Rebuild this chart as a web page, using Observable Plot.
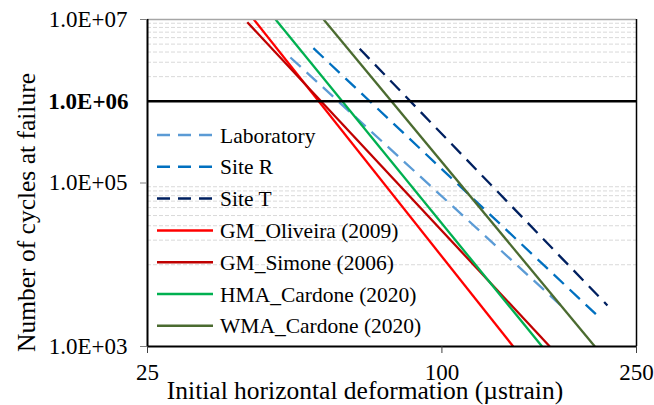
<!DOCTYPE html>
<html>
<head>
<meta charset="utf-8">
<script src="https://cdn.jsdelivr.net/npm/d3@7"></script>
<script src="https://cdn.jsdelivr.net/npm/@observablehq/plot@0.6"></script>
<style>
  html, body { margin: 0; padding: 0; background: #fff; }
</style>
</head>
<body>
<div id="chart"></div>
<script>
// Fatigue laws: number of cycles at failure vs initial horizontal strain (log-log)
const series = ["Laboratory", "Site R", "Site T", "GM_Oliveira (2009)", "GM_Simone (2006)", "HMA_Cardone (2020)", "WMA_Cardone (2020)"];
const strainStart = [49.0, 54.6, 67.9, 41.25, 40.0, 45.7, 57.3];
const cyclesStart = [3.43e6, 4.46e6, 4.38e6, 1.0e7, 9.27e6, 1.0e7, 1.0e7];
const strainEnd   = [177.0, 211.0, 218.0, 139.9, 166.2, 160.3, 205.5];
const cyclesEnd   = [3.0e3, 2.2e3, 3.18e3, 1.0e3, 1.0e3, 1.0e3, 1.0e3];

const xTicks = [25, 100, 250];
const yTicks = [1e3, 1e5, 1e7];
const yRefTick = [1e6];
const yGrid = [1e4, 2e4, 3e4, 4e4, 5e4, 6e4, 7e4, 8e4, 9e4, 2e6, 3e6, 4e6, 5e6, 6e6, 7e6, 8e6, 9e6];

const xTitle = "Initial horizontal deformation (\u00b5strain)";
const yTitle = "Number of cycles at failure";

// line styles per series
const colors = ["#5B9BD5", "#0070C0", "#002060", "#FF0000", "#C00000", "#00B050", "#4B6B30"];
const dashes = ["14,8", "14,8", "14,8", null, null, null, null];

const rows = series.flatMap((s, i) => [
  {series: s, strain: strainStart[i], cycles: cyclesStart[i]},
  {series: s, strain: strainEnd[i], cycles: cyclesEnd[i]}
]);

const fmtE = d => d.toExponential(1).toUpperCase().replace(/E\+(\d)$/, "E+0$1");
const font = "'Liberation Serif', 'Times New Roman', serif";

const lineMarks = series.map((s, i) =>
  Plot.line(rows.filter(r => r.series === s), {
    x: "strain", y: "cycles",
    stroke: colors[i], strokeWidth: 2.3,
    strokeDasharray: dashes[i] ?? undefined,
    strokeLinecap: "butt",
    clip: true
  })
);

const chart = Plot.plot({
  width: 654,
  height: 405,
  marginLeft: 147,
  marginRight: 18,
  marginTop: 19,
  marginBottom: 59,
  style: {fontFamily: font, fontSize: "22px", background: "white", color: "black"},
  x: {type: "log", domain: [25, 250]},
  y: {type: "log", domain: [1e3, 1e7]},
  marks: [
    Plot.ruleY(yGrid, {stroke: "#d9d9d9", strokeWidth: 1, strokeDasharray: "4,2"}),
    ...lineMarks,
    Plot.ruleY([1e6], {stroke: "black", strokeWidth: 2.5}),
    Plot.ruleY([1e7], {stroke: "#a6a6a6", strokeWidth: 1.5}),
    Plot.ruleX([250], {stroke: "black", strokeWidth: 1.5}),
    Plot.ruleX([25], {stroke: "black", strokeWidth: 2}),
    Plot.ruleY([1e3], {stroke: "black", strokeWidth: 2}),
    Plot.axisY(yTicks, {tickSize: 7, tickPadding: 13, tickFormat: fmtE, fontSize: 23, stroke: "#7f7f7f", fill: "black", label: null}),
    Plot.axisY(yRefTick, {tickSize: 0, tickPadding: 19, tickFormat: fmtE, fontSize: 23, fontWeight: "bold", fill: "black", label: null}),
    Plot.axisX(xTicks, {tickSize: 7, tickPadding: 10, tickFormat: d => String(d), fontSize: 23, stroke: "#404040", fill: "black", label: null})
  ]
});

const svg = d3.select(chart);

// Axis titles
svg.append("text")
  .attr("x", 365).attr("y", 399)
  .attr("text-anchor", "middle")
  .attr("font-family", font).attr("font-size", 25.5)
  .attr("fill", "black")
  .text(xTitle);
svg.append("text")
  .attr("transform", "translate(35,212.5) rotate(-90)")
  .attr("text-anchor", "middle")
  .attr("font-family", font).attr("font-size", 25.5)
  .attr("fill", "black")
  .text(yTitle);

// Legend drawn inside the plot area, one row per series
const legend = svg.append("g")
  .attr("font-family", font)
  .attr("font-size", 21.5)
  .attr("text-anchor", "start");
series.forEach((s, i) => {
  const cy = 135 + i * 31.8;
  legend.append("line")
    .attr("x1", 157).attr("x2", 213).attr("y1", cy).attr("y2", cy)
    .attr("stroke", colors[i]).attr("stroke-width", 2.5)
    .attr("stroke-dasharray", dashes[i] ? "13,8" : null);
  legend.append("text")
    .attr("x", 220).attr("y", cy).attr("dy", "0.35em")
    .attr("fill", "black")
    .text(s);
});

document.getElementById("chart").appendChild(chart);
</script>
</body>
</html>
